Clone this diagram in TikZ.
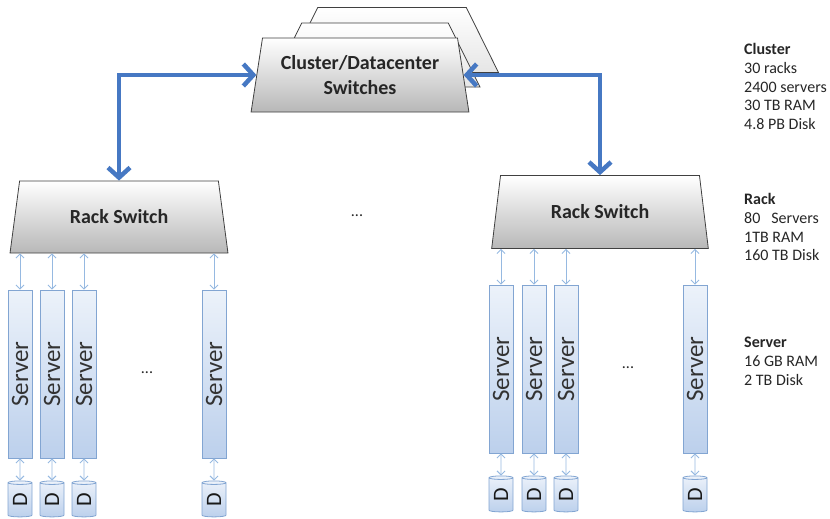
\documentclass[tikz,border=0pt]{standalone}
\usepackage{fontspec}
\setmainfont{Carlito}
\usepackage{graphicx}
\usetikzlibrary{shapes.geometric,arrows.meta,positioning}
\definecolor{uplinkblue}{RGB}{70,120,195}
\definecolor{linkblue}{RGB}{150,185,225}
\definecolor{srvedge}{RGB}{130,165,210}
\definecolor{srvtop}{RGB}{236,242,250}
\definecolor{srvbot}{RGB}{188,208,236}
\tikzset{
sw/.style={trapezium,trapezium stretches=true,draw=black!75,thick,top color=white,bottom color=black!28,
inner sep=3pt,font=\fontsize{20}{25}\selectfont\bfseries,align=center,text=black!85},
swback/.style={sw,bottom color=black!10},
srv/.style={draw=srvedge,thick,top color=srvtop,bottom color=srvbot,minimum width=24pt,minimum height=168pt,
inner sep=0pt,font=\fontsize{25}{25}\selectfont,text=black!80},
disk/.style={cylinder,shape border rotate=90,aspect=0.25,draw=srvedge,thick,top color=srvtop,bottom color=srvbot,
minimum width=24pt,minimum height=36pt,inner sep=0pt,font=\fontsize{22}{22}\selectfont,text=black!90},
uplink/.style={{Straight Barb[length=10pt,width=22pt]}-{Straight Barb[length=10pt,width=22pt]},line width=4.5pt,uplinkblue},
link/.style={{Straight Barb[length=4pt,width=8pt]}-{Straight Barb[length=4pt,width=8pt]},line width=0.9pt,linkblue},
info/.style={font=\fontsize{16}{18.8}\selectfont,align=left,anchor=north west,inner sep=0pt,text=black!85},
dots/.style={font=\fontsize{16}{16}\selectfont,text=black!85}
}
\begin{document}
\begin{tikzpicture}[x=1pt,y=-1pt]
\useasboundingbox (0,0) rectangle (830,519);
% cluster switches, stacked
\node[swback,trapezium angle=79,minimum width=213pt,minimum height=65pt] (cluster3) at (392,40) {\phantom{X}};
\node[swback,trapezium angle=79,minimum width=210pt,minimum height=64pt] (cluster2) at (375,55) {\phantom{X}};
\node[sw,trapezium angle=78,minimum width=218pt,minimum height=74pt] (cluster) at (360,75) {Cluster/Datacenter\\Switches};
% rack switches
\node[sw,trapezium angle=76,minimum width=218pt,minimum height=72pt] (lrack) at (119,217) {Rack Switch};
\node[sw,trapezium angle=77,minimum width=217pt,minimum height=73pt] (rrack) at (600,212) {Rack Switch};
\draw[uplink] (lrack.top side) |- (cluster.left side);
\draw[uplink] (rrack.top side) |- (cluster.right side);
% servers and disks
\foreach \x [count=\i] in {20,52,84,214}{
\node[srv] (ls\i) at (\x,374) {\rotatebox{90}{Server}};
\node[disk] (ld\i) at (\x,500) {\rotatebox{90}{D}};
\draw[link] (ls\i.north |- lrack.bottom side) -- (ls\i.north);
\draw[link] (ls\i.south) -- (ld\i.north);
}
\foreach \x [count=\i] in {501,534,566,695}{
\node[srv] (rs\i) at (\x,369) {\rotatebox{90}{Server}};
\node[disk] (rd\i) at (\x,495) {\rotatebox{90}{D}};
\draw[link] (rs\i.north |- rrack.bottom side) -- (rs\i.north);
\draw[link] (rs\i.south) -- (rd\i.north);
}
\node[dots] (ldots) at (147,373) {...};
\node[dots] (mdots) at (357,216) {...};
\node[dots] (rdots) at (628,368) {...};
% figures
\node[info] (clusterinfo) at (744,43) {\textbf{Cluster}\\30 racks\\2400 servers\\30 TB RAM\\4.8 PB Disk};
\node[info] (rackinfo) at (744,193) {\textbf{Rack}\\80~~~Servers\\1TB RAM\\160 TB Disk};
\node[info] (serverinfo) at (744,337) {\textbf{Server}\\16 GB RAM\\2 TB Disk};
\end{tikzpicture}
\end{document}
